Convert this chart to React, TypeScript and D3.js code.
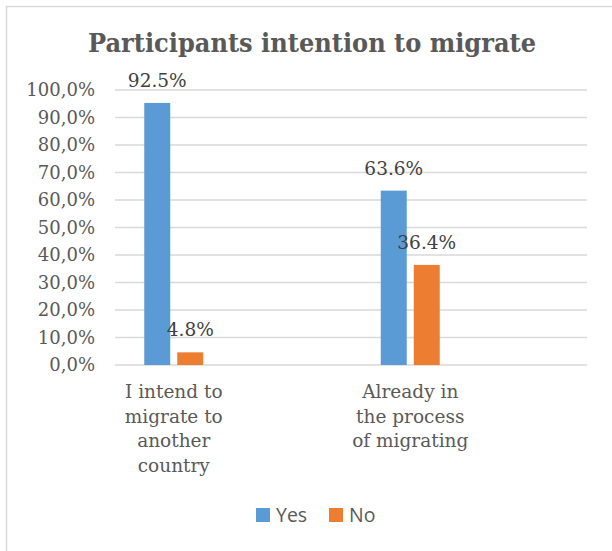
import React from "react";
import * as d3 from "d3";

const title = "Participants intention to migrate";
const categories = [
  ["I intend to", "migrate to", "another", "country"],
  ["Already in", "the process", "of migrating"],
];
const categoryKeys = ["intend", "process"];
const seriesNames = ["Yes", "No"];
const yesValues = [0.953, 0.634];
const noValues = [0.046, 0.364];
const yesLabels = ["92.5%", "63.6%"];
const noLabels = ["4.8%", "36.4%"];
const yTicks = [0, 0.1, 0.2, 0.3, 0.4, 0.5, 0.6, 0.7, 0.8, 0.9, 1.0];
const colors = ["#5B9BD5", "#ED7D31"];

const W = 612;
const H = 551;
const serif = "'DejaVu Serif', Georgia, serif";
const sans = "'Open Sans', 'Noto Sans', sans-serif";

export default function App() {
  const y = d3.scaleLinear().domain([0, 1]).range([365, 90]);
  const x0 = d3.scaleBand<string>().domain(categoryKeys).range([55.5, 528.5]).padding(0);
  const x1 = d3
    .scaleBand<string>()
    .domain(seriesNames)
    .range([-29.5, 29.5])
    .paddingInner(0.2121)
    .paddingOuter(0);
  const fmt = (v: number) => (v * 100).toFixed(1).replace(".", ",") + "%";
  const series = [
    { name: "Yes", values: yesValues, labels: yesLabels, color: colors[0] },
    { name: "No", values: noValues, labels: noLabels, color: colors[1] },
  ];

  return (
    <svg
      width={W}
      height={H}
      style={{ position: "absolute", left: 0, top: 0, background: "#fff" }}
    >
      <rect x={6.5} y={6.5} width={W + 20} height={H + 20} fill="#fff" stroke="#d9d9d9" strokeWidth={1.5} />
      <text
        x={312}
        y={52}
        textAnchor="middle"
        fontFamily={serif}
        fontWeight="bold"
        fontSize={26}
        fill="#595959"
        textLength={448}
        lengthAdjust="spacingAndGlyphs"
      >
        {title}
      </text>
      {yTicks.map((t) => (
        <g key={t}>
          <line x1={115} x2={587} y1={y(t)} y2={y(t)} stroke="#d9d9d9" strokeWidth={1.5} />
          <text
            x={95}
            y={y(t)}
            dy="0.36em"
            textAnchor="end"
            fontFamily={serif}
            fontSize={18}
            fill="#595959"
          >
            {fmt(t)}
          </text>
        </g>
      ))}
      {categoryKeys.map((k, i) => {
        const cx = (x0(k) as number) + x0.bandwidth() / 2;
        return (
          <g key={k}>
            {series.map((s) => {
              const bx = cx + (x1(s.name) as number);
              const top = y(s.values[i]);
              return (
                <g key={s.name}>
                  <rect x={bx} y={top} width={x1.bandwidth()} height={y(0) - top} fill={s.color} />
                  <text
                    x={bx + x1.bandwidth() / 2}
                    y={top - 16}
                    textAnchor="middle"
                    fontFamily={serif}
                    fontSize={18.5}
                    fill="#404040"
                  >
                    {s.labels[i]}
                  </text>
                </g>
              );
            })}
            <text textAnchor="middle" fontFamily={serif} fontSize={18.5} fill="#595959">
              {categories[i].map((line, j) => (
                <tspan key={j} x={cx} y={398 + j * 24.5}>
                  {line}
                </tspan>
              ))}
            </text>
          </g>
        );
      })}
      {series.map((s, i) => {
        const lx = [256, 329][i];
        return (
          <g key={s.name}>
            <rect x={lx} y={508} width={14} height={14} fill={s.color} />
            <text x={lx + 20} y={522} fontFamily={sans} fontSize={19.5} fill="#595959">
              {s.name}
            </text>
          </g>
        );
      })}
    </svg>
  );
}
